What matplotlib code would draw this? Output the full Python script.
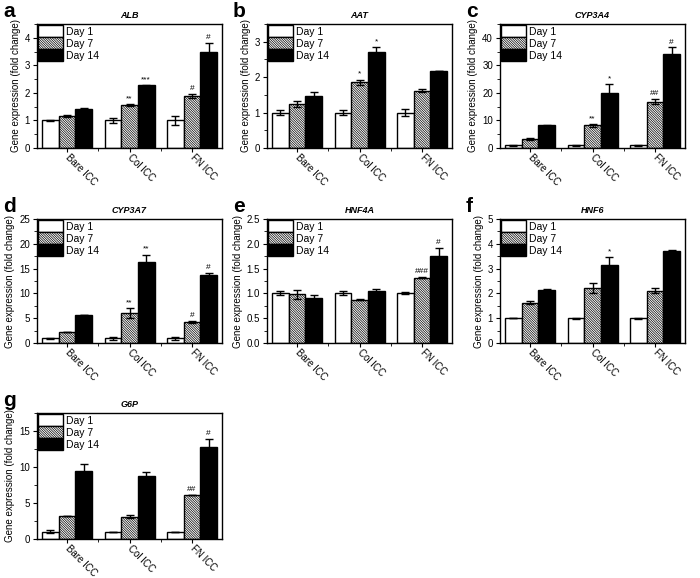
import matplotlib
matplotlib.use('Agg')
import matplotlib.pyplot as plt
import numpy as np
from matplotlib.patches import Patch
from matplotlib.ticker import MultipleLocator, FixedLocator, FormatStrFormatter

plt.rcParams['font.family'] = ['Liberation Sans', 'DejaVu Sans']
plt.rcParams['hatch.linewidth'] = 0.5

groups = ['Bare ICC', 'Col ICC', 'FN ICC']
days = ['Day 1', 'Day 7', 'Day 14']

# values[day][group], errors[day][group]
alb_val = [[1.0, 1.0, 1.0], [1.15, 1.55, 1.9], [1.43, 2.27, 3.5]]
alb_err = [[0.02, 0.08, 0.15], [0.03, 0.03, 0.07], [0.02, 0.02, 0.3]]
alb_sig = [(1, 1, '**'), (1, 2, '***'), (2, 1, '#'), (2, 2, '#')]

aat_val = [[1.0, 1.0, 1.0], [1.25, 1.85, 1.62], [1.48, 2.7, 2.18]]
aat_err = [[0.08, 0.06, 0.1], [0.08, 0.08, 0.04], [0.1, 0.15, 0.0]]
aat_sig = [(1, 1, '*'), (1, 2, '*')]

cyp3a4_val = [[1.0, 1.0, 1.0], [3.2, 8.3, 16.8], [8.3, 20.0, 34.2]]
cyp3a4_err = [[0.1, 0.1, 0.1], [0.4, 0.5, 1.0], [0.2, 3.2, 2.3]]
cyp3a4_sig = [(1, 1, '**'), (1, 2, '*'), (2, 1, '##'), (2, 2, '#')]

cyp3a7_val = [[1.0, 1.0, 1.0], [2.2, 6.0, 4.3], [5.6, 16.4, 13.8]]
cyp3a7_err = [[0.1, 0.3, 0.3], [0.05, 1.0, 0.2], [0.05, 1.4, 0.4]]
cyp3a7_sig = [(1, 1, '**'), (1, 2, '**'), (2, 1, '#'), (2, 2, '#')]

hnf4a_val = [[1.0, 1.0, 1.0], [0.98, 0.87, 1.32], [0.9, 1.04, 1.76]]
hnf4a_err = [[0.04, 0.04, 0.02], [0.09, 0.01, 0.01], [0.07, 0.05, 0.15]]
hnf4a_sig = [(2, 1, '###'), (2, 2, '#')]

hnf6_val = [[1.0, 1.0, 1.0], [1.63, 2.2, 2.1], [2.12, 3.15, 3.72]]
hnf6_err = [[0.0, 0.02, 0.02], [0.05, 0.2, 0.1], [0.07, 0.3, 0.03]]
hnf6_sig = [(1, 2, '*')]

g6p_val = [[1.0, 1.0, 1.0], [3.2, 3.1, 6.1], [9.4, 8.8, 12.8]]
g6p_err = [[0.2, 0.0, 0.0], [0.0, 0.2, 0.0], [1.0, 0.5, 1.1]]
g6p_sig = [(2, 1, '##'), (2, 2, '#')]

panels = [
    ('a', 'ALB', alb_val, alb_err, alb_sig, 4.5, 1, 0.5, '%d'),
    ('b', 'AAT', aat_val, aat_err, aat_sig, 3.5, 1, 0.5, '%d'),
    ('c', 'CYP3A4', cyp3a4_val, cyp3a4_err, cyp3a4_sig, 45, 10, 5, '%d'),
    ('d', 'CYP3A7', cyp3a7_val, cyp3a7_err, cyp3a7_sig, 25, 5, 2.5, '%d'),
    ('e', 'HNF4A', hnf4a_val, hnf4a_err, hnf4a_sig, 2.5, 0.5, 0.25, '%.1f'),
    ('f', 'HNF6', hnf6_val, hnf6_err, hnf6_sig, 5, 1, 0.5, '%d'),
    ('g', 'G6P', g6p_val, g6p_err, g6p_sig, 17.5, 5, 2.5, '%d'),
]

W, H = 700, 578
fig = plt.figure(figsize=(W / 100, H / 100), dpi=100)
lefts = [37, 267, 500]
tops = [24, 219, 413]
aw, ah = 185, 124

face = ['white', 'white', 'black']
hatches = [None, '\\' * 14, None]
bw = 0.8 / 3

for i, (letter, title, vals, errs, sigs, ymax, major, minor, fmt) in enumerate(panels):
    r, c = divmod(i, 3)
    l, t = lefts[c], tops[r]
    hh = ah + (2 if r == 2 else 0)
    ax = fig.add_axes([l / W, 1 - (t + hh) / H, aw / W, hh / H])
    x = np.arange(len(groups))
    for d in range(3):
        xs = x + (d - 1) * bw
        ax.bar(xs, vals[d], width=bw, color=face[d], edgecolor='black',
               hatch=hatches[d], linewidth=1.0, zorder=2)
        ax.errorbar(xs, vals[d], yerr=errs[d], fmt='none', ecolor='black',
                    elinewidth=1.0, capsize=3, capthick=1.0, zorder=3)
    for (g, d, s) in sigs:
        xs = g + (d - 1) * bw
        yv = vals[d][g] + errs[d][g] + ymax * 0.015
        ax.text(xs, yv, s, ha='center', va='bottom', fontsize=6, zorder=4)
    ax.set_xlim(-0.48, 2.48)
    ax.set_ylim(0, ymax)
    ax.yaxis.set_major_locator(MultipleLocator(major))
    ax.yaxis.set_minor_locator(MultipleLocator(minor))
    ax.yaxis.set_major_formatter(FormatStrFormatter(fmt))
    ax.set_xticks(x)
    ax.set_xticklabels(groups, rotation=-45, ha='left', va='center',
                       rotation_mode='anchor', fontsize=7)
    ax.xaxis.set_minor_locator(FixedLocator([0.5, 1.5]))
    ax.tick_params(axis='both', which='major', direction='out', length=3,
                   width=0.8, labelsize=7, pad=2)
    ax.tick_params(axis='both', which='minor', direction='out', length=2,
                   width=0.6)
    ax.tick_params(axis='x', which='major', pad=3)
    for sp in ax.spines.values():
        sp.set_linewidth(1.0)
    ax.set_ylabel('Gene expression (fold change)', fontsize=7, labelpad=3)
    ax.set_title(title, fontsize=6.5, fontweight='bold', fontstyle='italic', pad=4)
    handles = [Patch(facecolor=face[d], edgecolor='black', hatch=hatches[d],
                     linewidth=1.0, label=days[d]) for d in range(3)]
    ax.legend(handles=handles, loc='upper left', frameon=False, fontsize=7.5,
              handlelength=2.4, handleheight=1.4, labelspacing=0,
              borderpad=0.05, borderaxespad=0.05, handletextpad=0.3)
    fig.text((l - 34) / W, 1 - (t - 22) / H, letter, fontsize=15,
             fontweight='bold', ha='left', va='top')

fig.savefig('out.png', dpi=100)
